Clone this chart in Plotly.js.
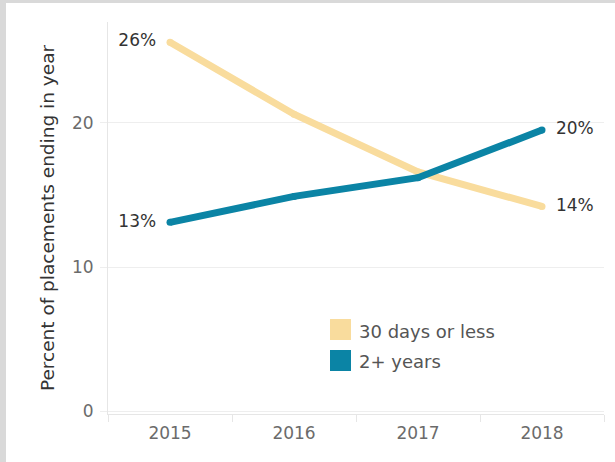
<!DOCTYPE html>
<html>
<head>
<meta charset="utf-8">
<script src="https://cdn.plot.ly/plotly-3.0.1.min.js"></script>
<style>
  html, body { margin: 0; padding: 0; background: #d9d9d9; width: 615px; height: 462px; overflow: hidden; }
  #chart { position: absolute; left: 6px; top: 3px; width: 609px; height: 459px; background: #fff; }
</style>
</head>
<body>
<div id="chart"></div>
<script>
const years = ['2015', '2016', '2017', '2018'];
const seriesNames = ['30 days or less', '2+ years'];
const shortStay = [25.6, 20.6, 16.6, 14.2];
const longStay = [13.1, 14.9, 16.2, 19.5];
const seriesColors = ['#f9dc9d', '#0b84a5'];
const yTicks = [0, 10, 20];
const yTitle = 'Percent of placements ending in year';

function endLabels(vals) {
  return vals.map((v, i) => i === 0 ? Math.round(v) + '%\u2002' :
    (i === vals.length - 1 ? '\u2002' + Math.round(v) + '%' : ''));
}
function endPositions(vals) {
  return vals.map((v, i) => i === 0 ? 'middle left' : (i === vals.length - 1 ? 'middle right' : 'middle center'));
}

const FONT = 'DejaVu Sans, sans-serif';
const allSeries = [shortStay, longStay];

const traces = allSeries.map((vals, k) => ({
  type: 'scatter',
  mode: 'lines+markers+text',
  x: years,
  y: vals,
  name: seriesNames[k],
  line: { color: seriesColors[k], width: 7 },
  marker: { color: seriesColors[k], size: 7 },
  text: endLabels(vals),
  textposition: endPositions(vals),
  textfont: { family: FONT, size: 17, color: '#333333' },
  hoverinfo: 'skip',
  showlegend: false,
  cliponaxis: false
}));

// legend drawn as square swatches + text
const legX0 = 0.4476, legX1 = 0.4899, legTextX = 0.502;
const legRows = [[0.1888, 0.2423, 0.2117], [0.1097, 0.1633, 0.1327]];
const shapes = legRows.map((r, k) => ({
  type: 'rect', xref: 'paper', yref: 'paper',
  x0: legX0, x1: legX1, y0: r[0], y1: r[1],
  fillcolor: seriesColors[k], line: { width: 0 }
}));
const annotations = legRows.map((r, k) => ({
  xref: 'paper', yref: 'paper', x: legTextX, y: r[2],
  xanchor: 'left', yanchor: 'middle', showarrow: false,
  text: seriesNames[k],
  font: { family: FONT, size: 18, color: '#555555' }
}));

const layout = {
  width: 609, height: 459,
  margin: { l: 102, r: 11, t: 19, b: 48 },
  paper_bgcolor: '#ffffff',
  plot_bgcolor: '#ffffff',
  font: { family: FONT, color: '#333333' },
  xaxis: {
    type: 'category',
    range: [-0.5, 3.5],
    showgrid: false,
    zeroline: false,
    showline: true,
    linecolor: '#e6e6e6',
    linewidth: 1,
    ticks: 'outside',
    tickson: 'boundaries',
    ticklen: 7,
    tickcolor: '#e6e6e6',
    tickfont: { family: FONT, size: 17, color: '#6b6b6b' },
    ticklabelstandoff: 4
  },
  yaxis: {
    range: [-0.2, 27],
    tickvals: yTicks,
    ticktext: yTicks.map(String),
    showgrid: true,
    gridcolor: '#eeeeee',
    zeroline: false,
    showline: true,
    linecolor: '#e6e6e6',
    ticks: 'outside',
    ticklen: 7,
    tickcolor: '#eeeeee',
    tickfont: { family: FONT, size: 17, color: '#6b6b6b' },
    ticklabelstandoff: 3,
    title: { text: yTitle, font: { family: FONT, size: 18.5, color: '#333333' }, standoff: 12 }
  },
  shapes: shapes,
  annotations: annotations,
  showlegend: false
};

Plotly.newPlot('chart', traces, layout, { displayModeBar: false, staticPlot: true });
</script>
</body>
</html>
